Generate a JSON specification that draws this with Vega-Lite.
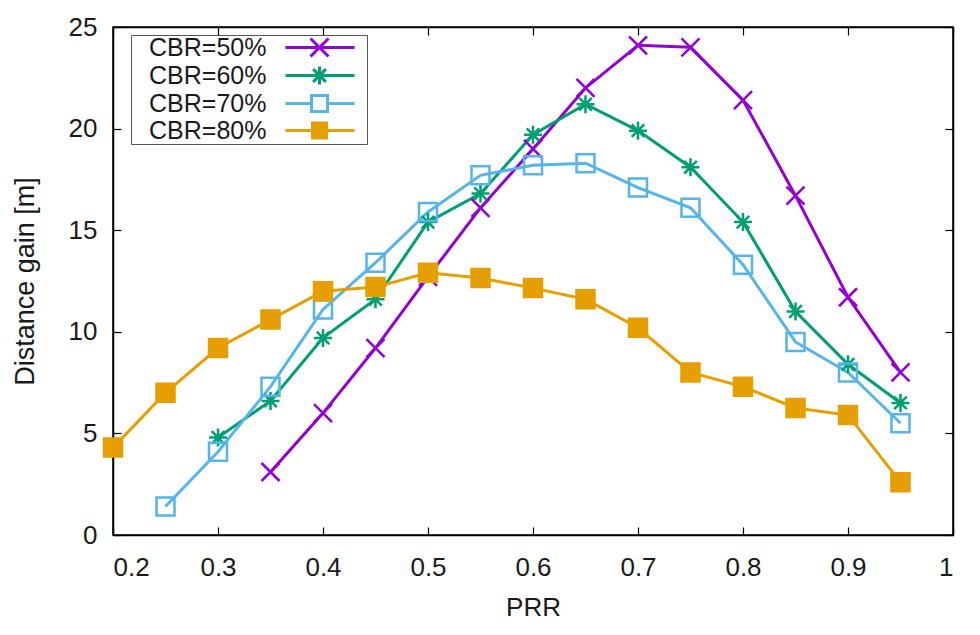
{
  "$schema": "https://vega.github.io/schema/vega-lite/v6.json",
  "width": 840,
  "height": 508,
  "autosize": "none",
  "padding": {"left": 113, "top": 27, "right": 27, "bottom": 100},
  "config": {
    "view": {"stroke": "#000", "strokeWidth": 1.5},
    "font": "Liberation Sans",
    "axis": {"grid": false, "domainColor": "#000", "domainWidth": 1.5, "tickColor": "#000", "tickWidth": 1.2, "labelColor": "#1a1a1a", "titleColor": "#1a1a1a", "labelFont": "Liberation Sans", "titleFont": "Liberation Sans", "titleFontWeight": "normal"}
  },
  "data": {"values": [
    {"prr": 0.35, "cbr": "CBR=50%", "gain": 3.1},
    {"prr": 0.40, "cbr": "CBR=50%", "gain": 6.0},
    {"prr": 0.45, "cbr": "CBR=50%", "gain": 9.2},
    {"prr": 0.50, "cbr": "CBR=50%", "gain": 12.7},
    {"prr": 0.55, "cbr": "CBR=50%", "gain": 16.1},
    {"prr": 0.60, "cbr": "CBR=50%", "gain": 19.0},
    {"prr": 0.65, "cbr": "CBR=50%", "gain": 22.0},
    {"prr": 0.70, "cbr": "CBR=50%", "gain": 24.1},
    {"prr": 0.75, "cbr": "CBR=50%", "gain": 24.0},
    {"prr": 0.80, "cbr": "CBR=50%", "gain": 21.4},
    {"prr": 0.85, "cbr": "CBR=50%", "gain": 16.7},
    {"prr": 0.90, "cbr": "CBR=50%", "gain": 11.7},
    {"prr": 0.95, "cbr": "CBR=50%", "gain": 8.0},
    {"prr": 0.30, "cbr": "CBR=60%", "gain": 4.8},
    {"prr": 0.35, "cbr": "CBR=60%", "gain": 6.6},
    {"prr": 0.40, "cbr": "CBR=60%", "gain": 9.7},
    {"prr": 0.45, "cbr": "CBR=60%", "gain": 11.6},
    {"prr": 0.50, "cbr": "CBR=60%", "gain": 15.4},
    {"prr": 0.55, "cbr": "CBR=60%", "gain": 16.8},
    {"prr": 0.60, "cbr": "CBR=60%", "gain": 19.7},
    {"prr": 0.65, "cbr": "CBR=60%", "gain": 21.2},
    {"prr": 0.70, "cbr": "CBR=60%", "gain": 19.9},
    {"prr": 0.75, "cbr": "CBR=60%", "gain": 18.1},
    {"prr": 0.80, "cbr": "CBR=60%", "gain": 15.4},
    {"prr": 0.85, "cbr": "CBR=60%", "gain": 11.0},
    {"prr": 0.90, "cbr": "CBR=60%", "gain": 8.4},
    {"prr": 0.95, "cbr": "CBR=60%", "gain": 6.5},
    {"prr": 0.25, "cbr": "CBR=70%", "gain": 1.4},
    {"prr": 0.30, "cbr": "CBR=70%", "gain": 4.1},
    {"prr": 0.35, "cbr": "CBR=70%", "gain": 7.3},
    {"prr": 0.40, "cbr": "CBR=70%", "gain": 11.1},
    {"prr": 0.45, "cbr": "CBR=70%", "gain": 13.4},
    {"prr": 0.50, "cbr": "CBR=70%", "gain": 15.9},
    {"prr": 0.55, "cbr": "CBR=70%", "gain": 17.7},
    {"prr": 0.60, "cbr": "CBR=70%", "gain": 18.2},
    {"prr": 0.65, "cbr": "CBR=70%", "gain": 18.3},
    {"prr": 0.70, "cbr": "CBR=70%", "gain": 17.1},
    {"prr": 0.75, "cbr": "CBR=70%", "gain": 16.1},
    {"prr": 0.80, "cbr": "CBR=70%", "gain": 13.3},
    {"prr": 0.85, "cbr": "CBR=70%", "gain": 9.5},
    {"prr": 0.90, "cbr": "CBR=70%", "gain": 8.0},
    {"prr": 0.95, "cbr": "CBR=70%", "gain": 5.5},
    {"prr": 0.20, "cbr": "CBR=80%", "gain": 4.3},
    {"prr": 0.25, "cbr": "CBR=80%", "gain": 7.0},
    {"prr": 0.30, "cbr": "CBR=80%", "gain": 9.2},
    {"prr": 0.35, "cbr": "CBR=80%", "gain": 10.6},
    {"prr": 0.40, "cbr": "CBR=80%", "gain": 12.0},
    {"prr": 0.45, "cbr": "CBR=80%", "gain": 12.2},
    {"prr": 0.50, "cbr": "CBR=80%", "gain": 12.9},
    {"prr": 0.55, "cbr": "CBR=80%", "gain": 12.65},
    {"prr": 0.60, "cbr": "CBR=80%", "gain": 12.15},
    {"prr": 0.65, "cbr": "CBR=80%", "gain": 11.6},
    {"prr": 0.70, "cbr": "CBR=80%", "gain": 10.2},
    {"prr": 0.75, "cbr": "CBR=80%", "gain": 8.0},
    {"prr": 0.80, "cbr": "CBR=80%", "gain": 7.3},
    {"prr": 0.85, "cbr": "CBR=80%", "gain": 6.25},
    {"prr": 0.90, "cbr": "CBR=80%", "gain": 5.9},
    {"prr": 0.95, "cbr": "CBR=80%", "gain": 2.6}
  ]},
  "layer": [
    {
      "mark": {"type": "line", "strokeWidth": 3},
      "encoding": {
        "x": {"field": "prr", "type": "quantitative",
          "scale": {"domain": [0.2, 1], "nice": false, "zero": false},
          "axis": {"orient": "bottom", "values": [0.2, 0.3, 0.4, 0.5, 0.6, 0.7, 0.8, 0.9, 1], "format": "~g",
            "tickSize": -8, "labelFontSize": 26, "labelPadding": 48, "labelBaseline": "alphabetic",
            "title": "PRR", "titleFontSize": 26, "titleX": 420, "titleY": 80, "titleBaseline": "alphabetic"}},
        "y": {"field": "gain", "type": "quantitative",
          "scale": {"domain": [0, 25], "nice": false},
          "axis": {"orient": "left", "values": [0, 5, 10, 15, 20, 25],
            "tickSize": -8, "labelFontSize": 26, "labelPadding": 24,
            "title": "Distance gain [m]", "titleFontSize": 27, "titleX": -80, "titleY": 254, "titleBaseline": "alphabetic", "titleAngle": 270}},
        "color": {"field": "cbr", "type": "nominal",
          "scale": {"domain": ["CBR=50%", "CBR=60%", "CBR=70%", "CBR=80%"], "range": ["#9400d3", "#009e73", "#56b4e9", "#e69f00"]},
          "legend": null}
      }
    },
    {
      "mark": {"type": "point", "strokeWidth": 2.5, "opacity": 1, "size": 324},
      "encoding": {
        "x": {"field": "prr", "type": "quantitative",
          "axis": {"orient": "top", "values": [0.2, 0.3, 0.4, 0.5, 0.6, 0.7, 0.8, 0.9, 1], "labels": false, "title": null, "tickSize": -8}},
        "y": {"field": "gain", "type": "quantitative",
          "axis": {"orient": "right", "values": [0, 5, 10, 15, 20, 25], "labels": false, "title": null, "tickSize": -8}},
        "stroke": {"field": "cbr", "type": "nominal",
          "scale": {"domain": ["CBR=50%", "CBR=60%", "CBR=70%", "CBR=80%"], "range": ["#9400d3", "#009e73", "#56b4e9", "#e69f00"]}, "legend": null},
        "fill": {"field": "cbr", "type": "nominal",
          "scale": {"domain": ["CBR=50%", "CBR=60%", "CBR=70%", "CBR=80%"], "range": ["transparent", "transparent", "transparent", "#e69f00"]}, "legend": null},
        "shape": {"field": "cbr", "type": "nominal",
          "scale": {"domain": ["CBR=50%", "CBR=60%", "CBR=70%", "CBR=80%"], "range": ["M-1,-1L1,1M1,-1L-1,1", "M-1,0L1,0M0,-1L0,1M-0.7,-0.7L0.7,0.7M0.7,-0.7L-0.7,0.7", "M-1,-1L1,-1L1,1L-1,1Z", "M-1,-1L1,-1L1,1L-1,1Z"]}, "legend": null}
      }
    },
    {
      "mark": {"type": "point", "filled": false, "strokeWidth": 3, "opacity": 0},
      "encoding": {
        "x": {"field": "prr", "type": "quantitative", "axis": null},
        "y": {"field": "gain", "type": "quantitative", "axis": null},
        "color": {"field": "cbr", "type": "nominal",
          "scale": {"domain": ["CBR=50%", "CBR=60%", "CBR=70%", "CBR=80%"], "range": ["#9400d3", "#009e73", "#56b4e9", "#e69f00"]},
          "legend": {"title": null, "orient": "none", "legendX": 18, "legendY": 8,
            "strokeColor": "#555", "fillColor": "#fff", "padding": 0, "rowPadding": -6,
            "labelFontSize": 25, "labelColor": "#1a1a1a", "labelFont": "Liberation Sans",
            "symbolSize": 4, "labelOffset": -7, "symbolStrokeWidth": 3, "symbolOpacity": 1}},
        "shape": {"field": "cbr", "type": "nominal",
          "scale": {"domain": ["CBR=50%", "CBR=60%", "CBR=70%", "CBR=80%"], "range": [
            "M142,0H211M167,-9L185,9M185,-9L167,9M217,0V0.01",
            "M142,0H211M176,-9V9M169.6,-6.4L182.4,6.4M182.4,-6.4L169.6,6.4M217,0V0.01",
            "M142,0H168M184,0H211M168,-8H184V8H168ZM217,0V0.01",
            "M142,0H211M167.5,-7.5H184.5M167.5,-5H184.5M167.5,-2.5H184.5M167.5,2.5H184.5M167.5,5H184.5M167.5,7.5H184.5M217,0V0.01"]},
          "legend": {"title": null, "orient": "none", "legendX": 18, "legendY": 8,
            "strokeColor": "#555", "fillColor": "#fff", "padding": 0, "rowPadding": -6,
            "labelFontSize": 25, "labelColor": "#1a1a1a", "labelFont": "Liberation Sans",
            "symbolSize": 4, "labelOffset": -7, "symbolStrokeWidth": 3, "symbolOpacity": 1}}
      }
    }
  ],
  "resolve": {"axis": {"x": "independent", "y": "independent"}, "scale": {"shape": "independent", "color": "independent"}}
}
